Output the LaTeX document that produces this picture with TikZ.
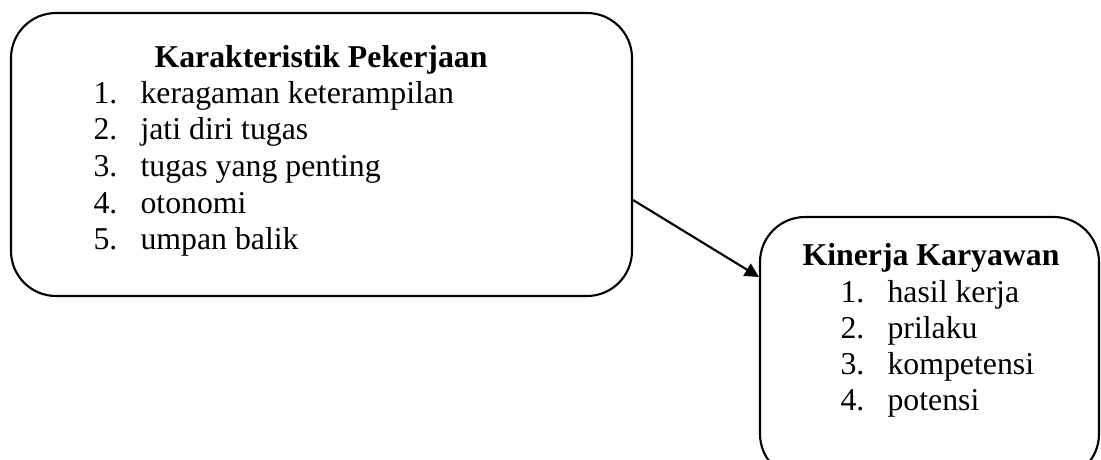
\documentclass[tikz,border=0pt]{standalone}
\usepackage{fontspec}
\setmainfont{Liberation Serif}
\usepackage{tikz}
\usetikzlibrary{arrows.meta}
\usetikzlibrary{positioning}
\newcommand{\docsize}{\fontsize{12pt}{13.8pt}\selectfont}
\tikzset{box/.style={rectangle,draw=black,line width=0.8pt,rounded corners=17pt,inner sep=0pt}}
\tikzset{title/.style={anchor=base,inner sep=0pt,font=\docsize\bfseries}}
\tikzset{item/.style={anchor=base west,inner sep=0pt,font=\docsize}}
\tikzset{link/.style={draw=black,line width=0.8pt,-{Triangle[length=5.3pt,width=5.3pt]}}}

\begin{document}
\begin{tikzpicture}[x=0.3774pt,y=-0.3774pt]
  \useasboundingbox (0,0) rectangle (1101,459);

  \node [box,minimum width=621*0.3774pt,minimum height=283*0.3774pt] (kar) at (321.5,154.5) {};
  \node [box,minimum width=339*0.3774pt,minimum height=262*0.3774pt] (kin) at (929.5,348) {};

  \node [title] (karT) at (321,67) {Karakteristik Pekerjaan};
  \foreach \t [count=\i] in {keragaman keterampilan,jati diri tugas,tugas yang penting,otonomi,umpan balik}
  {
    \node [item] (karN\i) at (93,103+36.7*\i-36.7) {\i.};
    \node [item] (karI\i) at (140,103+36.7*\i-36.7) {\t};
  }

  \node [title] (kinT) at (931,265) {Kinerja Karyawan};
  \foreach \t [count=\i] in {hasil kerja,prilaku,kompetensi,potensi}
  {
    \node [item] (kinN\i) at (840,302+36*\i-36) {\i.};
    \node [item] (kinI\i) at (887,302+36*\i-36) {\t};
  }

  \path [link] (kar.east |- 0,200) -- (kin.west |- 0,277);
\end{tikzpicture}
\end{document}
